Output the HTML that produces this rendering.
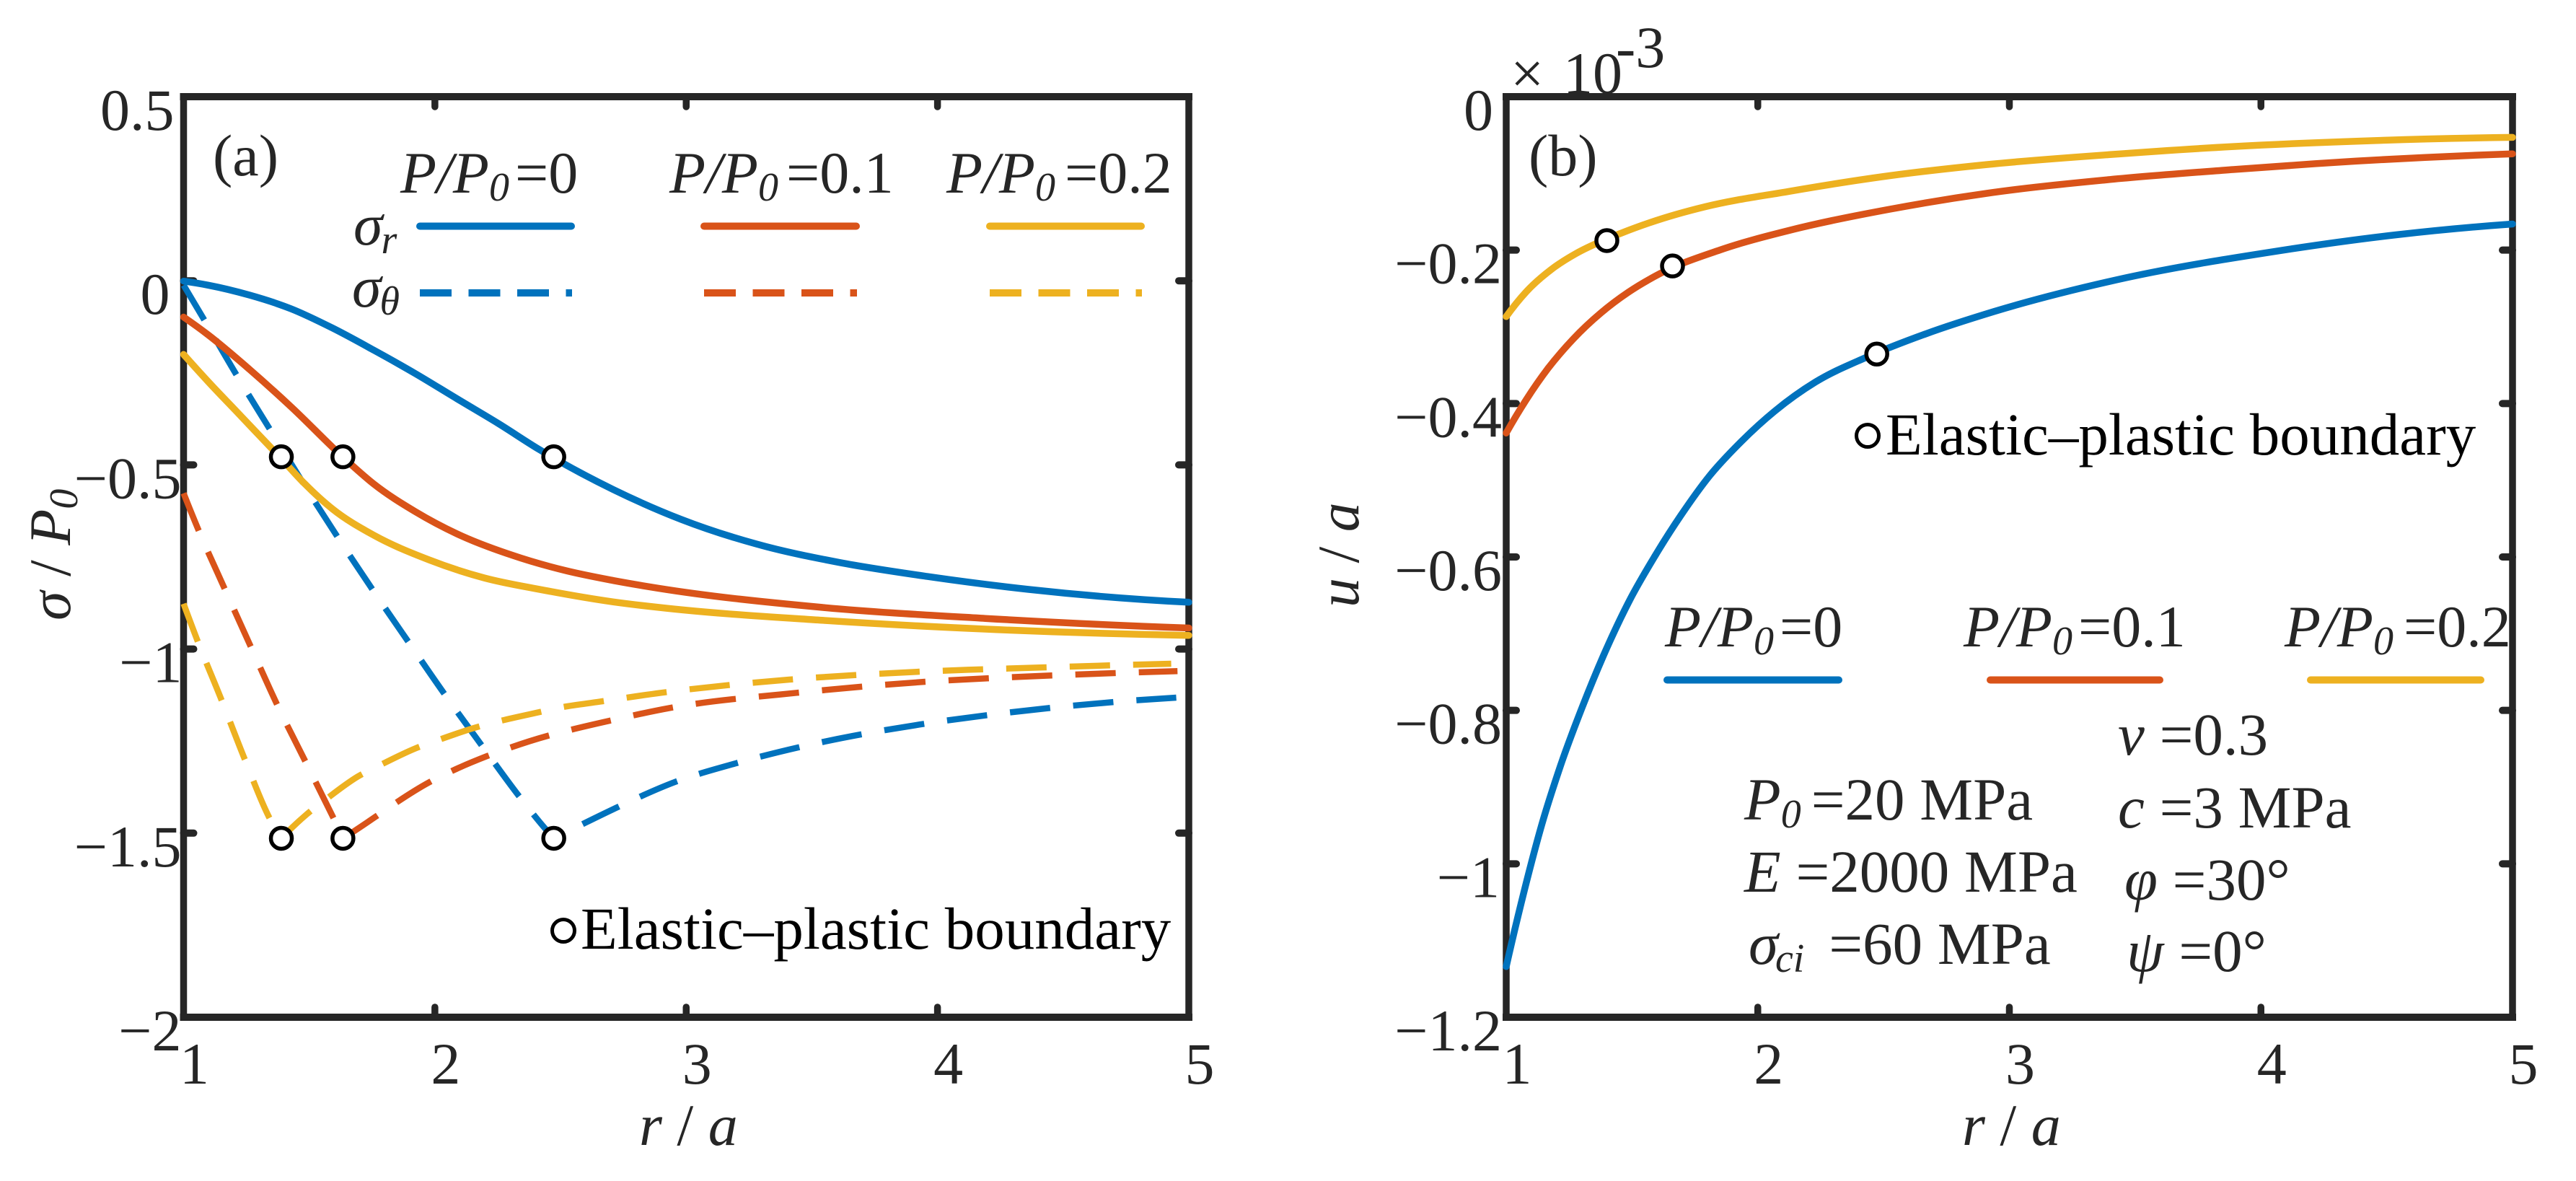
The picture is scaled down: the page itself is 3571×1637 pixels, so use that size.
<!DOCTYPE html>
<html lang="en">
<head>
<meta charset="utf-8">
<title>Stress and displacement versus r/a</title>
<style>
html,body{margin:0;padding:0;background:#fff;}
svg{display:block;}
text{font-family:"Liberation Serif","Noto Serif CJK SC",serif;font-size:82px;fill:#262626;}
.i{font-style:italic;}
.s{font-size:56px;font-style:italic;}
.p{font-size:83px;}
.k{fill:#000;font-size:83px;}
</style>
</head>
<body>
<svg id="figure" xmlns="http://www.w3.org/2000/svg" width="3571" height="1637" viewBox="0 0 3571 1637">
<rect x="0" y="0" width="3571" height="1637" fill="#fff"/>
<g id="panelA"></g>
<g id="panelB"></g>

<text x="295" y="243">(a)</text>
<text x="886" y="1587"><tspan class="i">r</tspan> / <tspan class="i">a</tspan></text>
<text transform="translate(97,860) rotate(-90)"><tspan class="i">σ</tspan> / <tspan class="i">P</tspan><tspan class="s" dy="10">0</tspan></text>

<text x="555" y="267"><tspan class="i">P/P</tspan><tspan class="s" dy="11">0</tspan><tspan dy="-11" dx="8">=0</tspan></text>
<text x="928" y="267"><tspan class="i">P/P</tspan><tspan class="s" dy="11">0</tspan><tspan dy="-11" dx="11">=0.1</tspan></text>
<text x="1312" y="267"><tspan class="i">P/P</tspan><tspan class="s" dy="11">0</tspan><tspan dy="-11" dx="13">=0.2</tspan></text>
<text x="490" y="339"><tspan class="i">σ</tspan><tspan class="s" dy="12" dx="-2">r</tspan></text>
<text x="488" y="425"><tspan class="i">σ</tspan><tspan class="s" dy="11" dx="-2">θ</tspan></text>
<text class="k" x="805" y="1315">Elastic–plastic boundary</text>
<circle cx="781" cy="1290" r="15.5" fill="#fff" stroke="#000" stroke-width="5"/>

<text x="2119" y="243">(b)</text>
<text x="2720" y="1587"><tspan class="i">r</tspan> / <tspan class="i">a</tspan></text>
<text transform="translate(1883,842) rotate(-90)"><tspan class="i">u</tspan> / <tspan class="i">a</tspan></text>
<text x="2094" y="129">×</text>
<text x="2167" y="129">10</text>
<text x="2240" y="93">-3</text>

<text x="2308" y="896"><tspan class="i">P/P</tspan><tspan class="s" dy="11">0</tspan><tspan dy="-11" dx="8">=0</tspan></text>
<text x="2722" y="896"><tspan class="i">P/P</tspan><tspan class="s" dy="11">0</tspan><tspan dy="-11" dx="8">=0.1</tspan></text>
<text x="3167" y="896"><tspan class="i">P/P</tspan><tspan class="s" dy="11">0</tspan><tspan dy="-11" dx="14">=0.2</tspan></text>
<text class="k" x="2614" y="630">Elastic–plastic boundary</text>
<circle cx="2589" cy="604" r="15.5" fill="#fff" stroke="#000" stroke-width="5"/>

<text class="p" x="2418" y="1136"><tspan class="i">P</tspan><tspan class="s" dy="11">0</tspan><tspan dy="-11" dx="14">=20 MPa</tspan></text>
<text class="p" x="2418" y="1236"><tspan class="i">E</tspan> =2000 MPa</text>
<text class="p" x="2424" y="1336"><tspan class="i">σ</tspan><tspan class="s" dy="11" dx="-4">ci</tspan><tspan dy="-11" dx="34">=60 MPa</tspan></text>
<text class="p" x="2936" y="1046"><tspan class="i">v</tspan> =0.3</text>
<text class="p" x="2936" y="1147"><tspan class="i">c</tspan> =3 MPa</text>
<text class="p" x="2945" y="1247"><tspan class="i">φ</tspan> =30°</text>
<text class="p" x="2948" y="1346"><tspan class="i">ψ</tspan> =0°</text>
</svg>

<script>
// ---- Axes ----
const xTicks = [1, 2, 3, 4, 5];
const xTickLabels = ['1', '2', '3', '4', '5'];
const yTicksA = [0.5, 0, -0.5, -1, -1.5, -2];
const yTickLabelsA = ['0.5', '0', '−0.5', '−1', '−1.5', '−2'];
const yTicksB = [0, -0.2, -0.4, -0.6, -0.8, -1, -1.2];
const yTickLabelsB = ['0', '−0.2', '−0.4', '−0.6', '−0.8', '−1', '−1.2'];

// ---- Panel (a): radial stress, sigma_r / P0 ----
const sigmaRP0x = [1, 1.098, 1.263, 1.4275, 1.593, 1.757, 1.922, 2.087, 2.251, 2.416, 2.71, 2.98, 3.28, 3.61, 3.96, 4.36, 5];
const sigmaRP0y = [-0.001, -0.012, -0.039, -0.076, -0.1285, -0.1885, -0.252, -0.32, -0.387, -0.4585, -0.567, -0.648, -0.715, -0.765, -0.803, -0.838, -0.873];
const sigmaRP01x = [1, 1.098, 1.263, 1.4275, 1.633, 1.757, 1.922, 2.087, 2.306, 2.526, 2.71, 2.89, 3.54, 4.19, 5];
const sigmaRP01y = [-0.0985, -0.147, -0.241, -0.342, -0.478, -0.552, -0.627, -0.687, -0.745, -0.788, -0.814, -0.835, -0.887, -0.917, -0.943];
const sigmaRP02x = [1, 1.098, 1.208, 1.318, 1.389, 1.483, 1.593, 1.757, 1.977, 2.197, 2.416, 2.71, 2.89, 3.54, 4.19, 5];
const sigmaRP02y = [-0.2, -0.274, -0.353, -0.432, -0.483, -0.552, -0.62, -0.691, -0.758, -0.807, -0.838, -0.872, -0.887, -0.922, -0.946, -0.963];

// ---- Panel (a): hoop stress, sigma_theta / P0 ----
const sigmaTP0x = [1, 1.082, 1.211, 1.345, 1.527, 1.754, 1.898, 2.04, 2.191, 2.341, 2.438, 2.473, 2.586, 2.71, 2.96, 3.2, 3.54, 3.93, 4.29, 4.95];
const sigmaTP0y = [-0.012, -0.106, -0.256, -0.405, -0.605, -0.841, -0.984, -1.124, -1.266, -1.405, -1.487, -1.514, -1.476, -1.435, -1.36, -1.31, -1.253, -1.205, -1.172, -1.132];
const sigmaTP01x = [1, 1.06, 1.164, 1.269, 1.373, 1.485, 1.598, 1.636, 1.763, 1.84, 1.977, 2.059, 2.207, 2.295, 2.447, 2.537, 2.694, 2.935, 3.44, 3.95, 4.455, 4.955];
const sigmaTP01y = [-0.577, -0.678, -0.837, -0.996, -1.152, -1.306, -1.461, -1.514, -1.456, -1.42, -1.362, -1.334, -1.291, -1.269, -1.236, -1.22, -1.195, -1.16, -1.119, -1.089, -1.072, -1.06];
const sigmaTP02x = [1, 1.0545, 1.15, 1.243, 1.342, 1.389, 1.488, 1.565, 1.694, 1.777, 1.922, 2.01, 2.158, 2.251, 2.405, 2.498, 2.656, 2.9, 3.41, 3.92, 4.42, 4.93];
const sigmaTP02y = [-0.877, -0.976, -1.137, -1.299, -1.459, -1.514, -1.45, -1.409, -1.346, -1.317, -1.27, -1.248, -1.214, -1.197, -1.173, -1.159, -1.143, -1.119, -1.083, -1.062, -1.05, -1.04];

// ---- Panel (a): elastic-plastic boundary points ----
const boundaryRA = [1.389, 1.634, 2.473];
const boundarySigmaR = [-0.478, -0.478, -0.478];
const boundarySigmaT = [-1.514, -1.514, -1.514];

// ---- Panel (b): displacement u/a, x 10^-3 ----
const dispP0x = [1, 1.0726, 1.144, 1.216, 1.302, 1.386, 1.493, 1.589, 1.694, 1.809, 1.933, 2.067, 2.229, 2.43, 2.669, 2.94, 3.465, 4.05, 4.54, 5];
const dispP0y = [-1.134, -1.034, -0.946, -0.872, -0.796, -0.729, -0.655, -0.6, -0.546, -0.494, -0.45, -0.41, -0.372, -0.34, -0.309, -0.28, -0.236, -0.202, -0.18, -0.166];
const dispP01x = [1, 1.079, 1.167, 1.266, 1.376, 1.485, 1.612, 1.848, 2.122, 2.525, 2.91, 3.40, 3.89, 4.38, 5];
const dispP01y = [-0.4384, -0.3953, -0.3539, -0.316, -0.282, -0.255, -0.2305, -0.2, -0.1745, -0.1467, -0.126, -0.108, -0.095, -0.084, -0.0745];
const dispP02x = [1, 1.079, 1.178, 1.277, 1.40, 1.4525, 1.573, 1.793, 2.122, 2.525, 2.91, 3.40, 3.89, 4.38, 5];
const dispP02y = [-0.2866, -0.2545, -0.2255, -0.2045, -0.1855, -0.1785, -0.164, -0.1433, -0.1236, -0.103, -0.0885, -0.0755, -0.065, -0.058, -0.053];

// ---- Panel (b): elastic-plastic boundary points ----
const boundaryRB = [1.40, 1.661, 2.473];
const boundaryU = [-0.1876, -0.2207, -0.3355];

const BLUE = '#0072BD';
const ORANGE = '#D95319';
const YELLOW = '#EDB120';
const INK = '#262626';
const NS = 'http://www.w3.org/2000/svg';

const plotA = {left: 254.5, right: 1648, top: 134, bottom: 1410, xMin: 1, xMax: 5, yMin: -2, yMax: 0.5};
const plotB = {left: 2088, right: 3483, top: 134, bottom: 1410, xMin: 1, xMax: 5, yMin: -1.2, yMax: 0};

function sx(p, v) { return p.left + (v - p.xMin) / (p.xMax - p.xMin) * (p.right - p.left); }
function sy(p, v) { return p.top + (p.yMax - v) / (p.yMax - p.yMin) * (p.bottom - p.top); }

// Piecewise cubic Hermite through the read values; a slope reversal is kept as a sharp corner.
function smoothPath(p, xs, ys) {
  const X = xs.map(function (v) { return sx(p, v); });
  const Y = ys.map(function (v) { return sy(p, v); });
  const n = X.length;
  const h = [], d = [];
  for (let i = 0; i < n - 1; i++) {
    h.push(X[i + 1] - X[i]);
    d.push((Y[i + 1] - Y[i]) / h[i]);
  }
  const isEnd = function (i) {
    return i === 0 || i === n - 1 || d[i - 1] * d[i] < 0;
  };
  const inner = function (i) {
    return (h[i - 1] * d[i] + h[i] * d[i - 1]) / (h[i - 1] + h[i]);
  };
  const startSlope = function (i) {
    if (i + 1 >= n - 1 || isEnd(i + 1)) return d[i];
    return (d[i] * (2 * h[i] + h[i + 1]) - d[i + 1] * h[i]) / (h[i] + h[i + 1]);
  };
  const endSlope = function (i) {
    if (i - 1 <= 0 || isEnd(i - 1)) return d[i - 1];
    return (d[i - 1] * (2 * h[i - 1] + h[i - 2]) - d[i - 2] * h[i - 1]) / (h[i - 1] + h[i - 2]);
  };
  let path = 'M' + X[0].toFixed(1) + ' ' + Y[0].toFixed(1);
  for (let i = 0; i < n - 1; i++) {
    const m0 = isEnd(i) ? startSlope(i) : inner(i);
    const m1 = isEnd(i + 1) ? endSlope(i + 1) : inner(i + 1);
    const t = h[i] / 3;
    path += 'C' + (X[i] + t).toFixed(1) + ' ' + (Y[i] + m0 * t).toFixed(1) + ' ' +
      (X[i + 1] - t).toFixed(1) + ' ' + (Y[i + 1] - m1 * t).toFixed(1) + ' ' +
      X[i + 1].toFixed(1) + ' ' + Y[i + 1].toFixed(1);
  }
  return path;
}

function drawCurve(parent, p, xs, ys, color, dashed, name) {
  const el = document.createElementNS(NS, 'path');
  el.setAttribute('d', smoothPath(p, xs, ys));
  el.setAttribute('fill', 'none');
  el.setAttribute('stroke', color);
  el.setAttribute('stroke-width', dashed ? 8.5 : 9.5);
  el.setAttribute('stroke-linecap', dashed ? 'butt' : 'round');
  el.setAttribute('stroke-linejoin', 'round');
  if (dashed) el.setAttribute('stroke-dasharray', '56 32');
  
  
  parent.appendChild(el);
}

function drawMarker(parent, p, x, y, name) {
  const el = document.createElementNS(NS, 'circle');
  el.setAttribute('cx', sx(p, x));
  el.setAttribute('cy', sy(p, y));
  el.setAttribute('r', 14.5);
  el.setAttribute('fill', '#fff');
  el.setAttribute('stroke', '#000');
  el.setAttribute('stroke-width', 5.5);
  
  
  parent.appendChild(el);
}

function drawRule(parent, x1, y1, x2, y2, color, width, cap, dash, name) {
  const el = document.createElementNS(NS, 'line');
  el.setAttribute('x1', x1);
  el.setAttribute('y1', y1);
  el.setAttribute('x2', x2);
  el.setAttribute('y2', y2);
  el.setAttribute('stroke', color);
  el.setAttribute('stroke-width', width);
  el.setAttribute('stroke-linecap', cap);
  if (dash) el.setAttribute('stroke-dasharray', dash);
  
  
  parent.appendChild(el);
}

function drawLabel(parent, x, y, anchor, str, name) {
  const el = document.createElementNS(NS, 'text');
  el.setAttribute('x', x);
  el.setAttribute('y', y);
  el.setAttribute('text-anchor', anchor);
  el.textContent = str;
  
  
  parent.appendChild(el);
}

function drawAxes(parent, p, yTicks, yLabels, inset, tag) {
  const tickLen = 14;
  xTicks.forEach(function (t, i) {
    const x = sx(p, t);
    if (i > 0 && i < xTicks.length - 1) {
      drawRule(parent, x, p.top, x, p.top + tickLen, INK, 9.5, 'round', null, tag + '-top-tick');
      drawRule(parent, x, p.bottom, x, p.bottom - tickLen, INK, 9.5, 'round', null, tag + '-x-tick');
    }
    drawLabel(parent, x + 15, 1502, 'middle', xTickLabels[i], tag + '-x-tick-label');
  });
  yTicks.forEach(function (t, i) {
    const y = sy(p, t);
    if (y > p.top + 1 && y < p.bottom - 1) {
      drawRule(parent, p.left, y, p.left + tickLen, y, INK, 10, 'round', null, tag + '-y-tick');
      drawRule(parent, p.right, y, p.right - tickLen, y, INK, 10, 'round', null, tag + '-right-tick');
    }
    drawLabel(parent, p.left - inset(yLabels[i]), y + 46, 'end', yLabels[i], tag + '-y-tick-label');
  });
}

function drawFrame(parent, p, tag) {
  drawRule(parent, p.left, p.top, p.left, p.bottom, INK, 9.5, 'square', null, tag + '-left-spine');
  drawRule(parent, p.right, p.top, p.right, p.bottom, INK, 9.5, 'square', null, tag + '-right-spine');
  drawRule(parent, p.left, p.top, p.right, p.top, INK, 10, 'square', null, tag + '-top-spine');
  drawRule(parent, p.left, p.bottom, p.right, p.bottom, INK, 10, 'square', null, tag + '-bottom-spine');
}

const gA = document.getElementById('panelA');
const gB = document.getElementById('panelB');

// Panel (a)
drawAxes(gA, plotA, yTicksA, yTickLabelsA, function (s) { return s === '0' ? 19 : (s === '0.5' ? 13 : (s === '−1' ? 2 : 3)); }, 'panel-a');
drawFrame(gA, plotA, 'panel-a');
drawCurve(gA, plotA, sigmaTP0x, sigmaTP0y, BLUE, true, 'sigma-theta-p0');
drawCurve(gA, plotA, sigmaTP01x, sigmaTP01y, ORANGE, true, 'sigma-theta-p01');
drawCurve(gA, plotA, sigmaTP02x, sigmaTP02y, YELLOW, true, 'sigma-theta-p02');
drawCurve(gA, plotA, sigmaRP0x, sigmaRP0y, BLUE, false, 'sigma-r-p0');
drawCurve(gA, plotA, sigmaRP01x, sigmaRP01y, ORANGE, false, 'sigma-r-p01');
drawCurve(gA, plotA, sigmaRP02x, sigmaRP02y, YELLOW, false, 'sigma-r-p02');
boundaryRA.forEach(function (r, i) {
  drawMarker(gA, plotA, r, boundarySigmaR[i], 'sigma-r-boundary-point');
  drawMarker(gA, plotA, r, boundarySigmaT[i], 'sigma-theta-boundary-point');
});
drawRule(gA, 582, 313.5, 792, 313.5, BLUE, 10, 'round', null, 'legend-a-solid-p0');
drawRule(gA, 976, 313.5, 1187, 313.5, ORANGE, 10, 'round', null, 'legend-a-solid-p01');
drawRule(gA, 1372, 313.5, 1582, 313.5, YELLOW, 10, 'round', null, 'legend-a-solid-p02');
drawRule(gA, 582, 406, 793, 406, BLUE, 10, 'butt', '44 23.5', 'legend-a-dashed-p0');
drawRule(gA, 976, 406, 1188, 406, ORANGE, 10, 'butt', '44 23.5', 'legend-a-dashed-p01');
drawRule(gA, 1372, 406, 1583, 406, YELLOW, 10, 'butt', '44 23.5', 'legend-a-dashed-p02');

// Panel (b)
drawAxes(gB, plotB, yTicksB, yTickLabelsB, function (s) { return s === '0' ? 18 : (s === '−1' ? 9 : 6); }, 'panel-b');
drawFrame(gB, plotB, 'panel-b');
drawCurve(gB, plotB, dispP0x, dispP0y, BLUE, false, 'displacement-p0');
drawCurve(gB, plotB, dispP01x, dispP01y, ORANGE, false, 'displacement-p01');
drawCurve(gB, plotB, dispP02x, dispP02y, YELLOW, false, 'displacement-p02');
boundaryRB.forEach(function (r, i) {
  drawMarker(gB, plotB, r, boundaryU[i], 'displacement-boundary-point');
});
drawRule(gB, 2311, 942.5, 2549, 942.5, BLUE, 10, 'round', null, 'legend-b-line-p0');
drawRule(gB, 2759, 942.5, 2994, 942.5, ORANGE, 10, 'round', null, 'legend-b-line-p01');
drawRule(gB, 3203, 942.5, 3439, 942.5, YELLOW, 10, 'round', null, 'legend-b-line-p02');
</script>
</body>
</html>
